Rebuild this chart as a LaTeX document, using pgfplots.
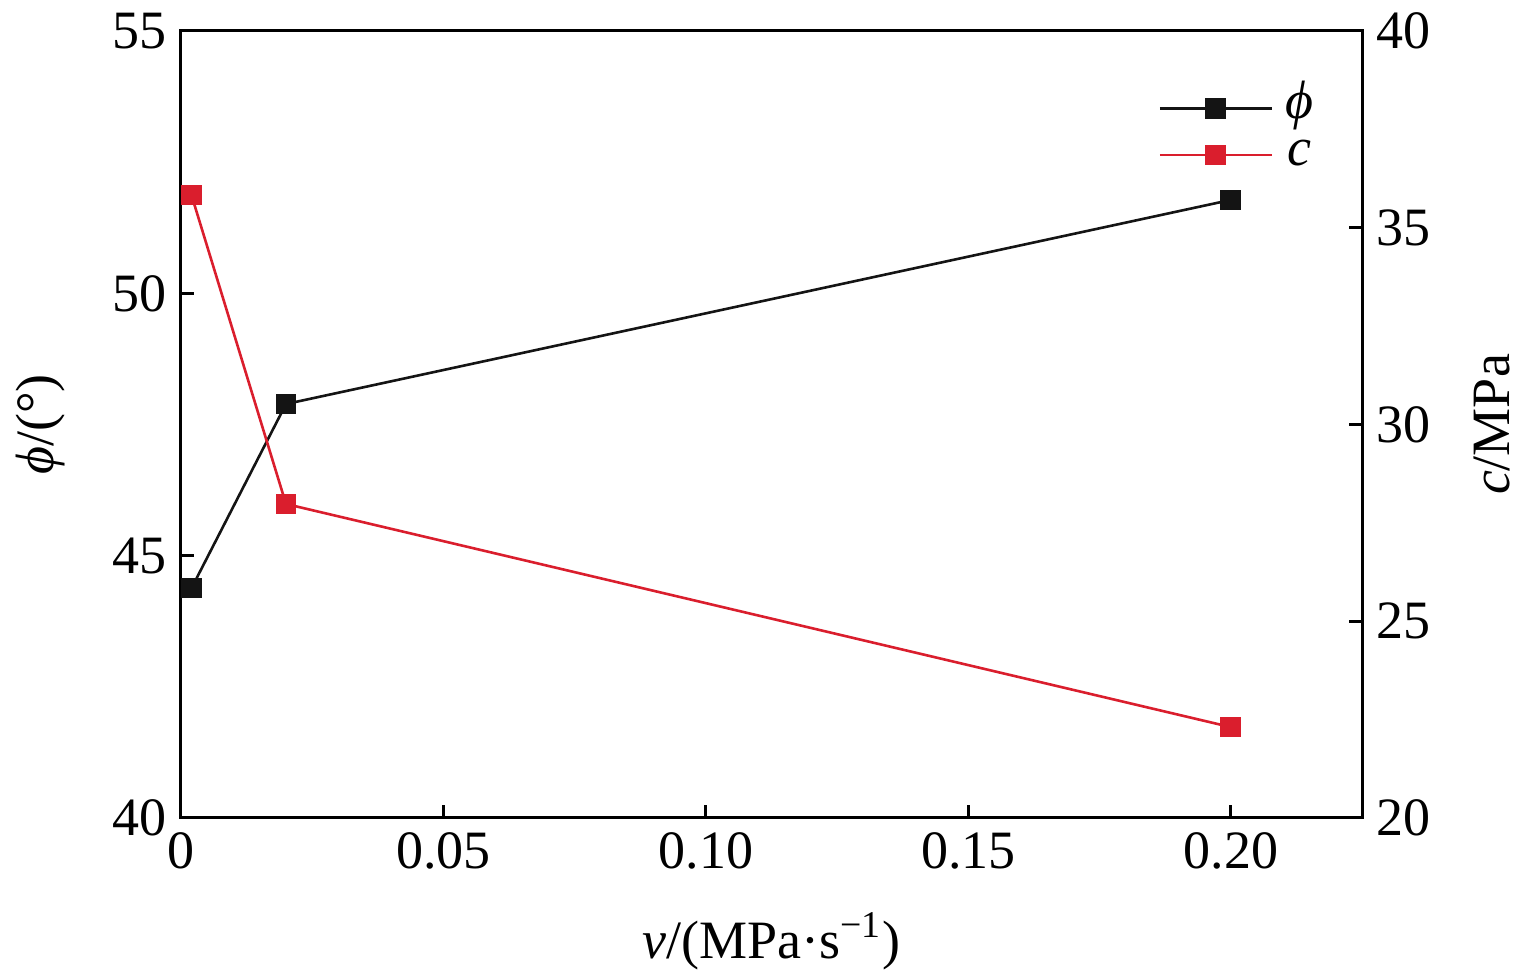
\documentclass[border=0pt]{standalone}
\usepackage{pgfplots}
\pgfplotsset{compat=1.18}
\usepackage{fontspec}
\setmainfont{Liberation Serif}
\definecolor{cred}{RGB}{218,30,45}
\definecolor{cblk}{RGB}{20,20,20}
\begin{document}
\begin{tikzpicture}
\useasboundingbox (-45.25pt,-39pt) rectangle (338.5pt,204.5pt);
\pgfplotsset{
 every axis/.append style={
  scale only axis, width=295.25pt, height=196.75pt,
  xmin=0, xmax=0.225,
  font=\rmfamily\fontsize{13.5}{16}\selectfont,
  tick align=inside, major tick length=3.25pt,
  axis line style={line width=0.75pt},
  every tick/.append style={line width=0.75pt, black},
  /pgf/number format/assume math mode=true,
  tick label style={font=\rmfamily\fontsize{13.5}{16}\selectfont},
  yticklabel={\textrm{\pgfmathprintnumber[assume math mode=true]{\tick}}},
 }
}
\begin{axis}[
  ymin=40, ymax=55, ytick={40,45,50,55},
  xtick={0,0.05,0.1,0.15,0.2}, xticklabels={\textrm{0},\textrm{0.05},\textrm{0.10},\textrm{0.15},\textrm{0.20}},
  xtick pos=left, ytick pos=left,
  xlabel={\textit{v}/(MPa·s\textsuperscript{−1})},
  ylabel={\textit{ϕ}/(°)},
  xlabel style={at={(axis description cs:0.5,-0.157)}, anchor=center},
  ylabel style={at={(axis description cs:-0.119,0.5)}, anchor=center},
]
\addplot[cblk, line width=0.65pt, mark=square*, mark size=2.25pt] coordinates {(0.002,44.38)(0.02,47.89)(0.2,51.78)};
\end{axis}
\begin{axis}[
  axis x line=none, axis y line*=right,
  ymin=20, ymax=40, ytick={20,25,30,35,40},
  ylabel={\textit{c}/MPa},
  ylabel style={at={(axis description cs:1.110,0.5)}, anchor=center},
  legend style={draw=none, fill=none, at={(axis description cs:0.827,0.8717)}, anchor=west,
    font=\rmfamily\fontsize{13.5}{12}\selectfont, row sep=2.6pt, column sep=3pt, inner sep=0pt,
    nodes={inner sep=0pt, text height=7pt, text depth=2pt}},
  legend image code/.code={\draw[mark repeat=2,mark phase=2,#1] plot coordinates {(0pt,0pt)(14pt,0pt)(28pt,0pt)};},
]
\addlegendimage{cblk, line width=0.65pt, mark=square*, mark size=2.25pt}
\addlegendentry{\textit{ϕ}}
\addplot[cred, line width=0.65pt, mark=square*, mark size=2.25pt] coordinates {(0.002,35.83)(0.02,27.98)(0.2,22.31)};
\addlegendentry{\textit{c}}
\end{axis}
\end{tikzpicture}
\end{document}
